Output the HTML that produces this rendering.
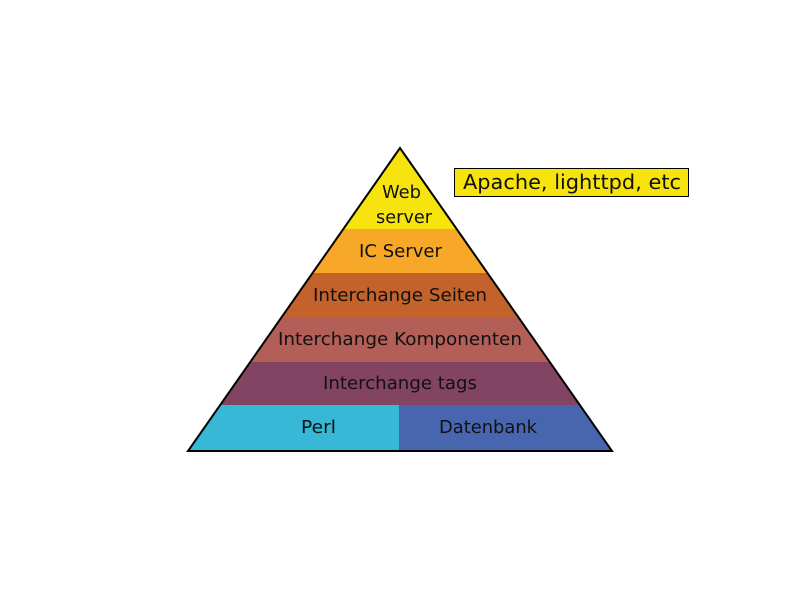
<!DOCTYPE html>
<html><head><style>body{margin:0;background:#fff}</style></head><body>
<svg width="800" height="600" xmlns="http://www.w3.org/2000/svg" font-family="DejaVu Sans, Liberation Sans, sans-serif" font-size="18" fill="#111">
<defs><clipPath id="t"><polygon points="400,148 188,451 612,451"/></clipPath></defs>
<g clip-path="url(#t)">
<rect x="180" y="140" width="440" height="89" fill="#F7E30E"/>
<rect x="180" y="229" width="440" height="44" fill="#F8A829"/>
<rect x="180" y="273" width="440" height="44" fill="#C3622A"/>
<rect x="180" y="317" width="440" height="45" fill="#B45E58"/>
<rect x="180" y="362" width="440" height="43" fill="#834463"/>
<rect x="180" y="405" width="219" height="50" fill="#36B8D6"/>
<rect x="399" y="405" width="221" height="50" fill="#4865AF"/>
</g>
<polygon points="400,148 188,451 612,451" fill="none" stroke="#000" stroke-width="2"/>
<text x="382" y="198" textLength="39" lengthAdjust="spacingAndGlyphs">Web</text>
<text x="376" y="223" textLength="56" lengthAdjust="spacingAndGlyphs">server</text>
<text x="359" y="257" textLength="83" lengthAdjust="spacingAndGlyphs">IC Server</text>
<text x="313" y="301" textLength="174" lengthAdjust="spacingAndGlyphs">Interchange Seiten</text>
<text x="278" y="345" textLength="244" lengthAdjust="spacingAndGlyphs">Interchange Komponenten</text>
<text x="323" y="389" textLength="154" lengthAdjust="spacingAndGlyphs">Interchange tags</text>
<text x="301" y="433" textLength="35" lengthAdjust="spacingAndGlyphs">Perl</text>
<text x="439" y="433" textLength="98" lengthAdjust="spacingAndGlyphs">Datenbank</text>
<rect x="454.5" y="168.5" width="234" height="28" fill="#F7E30E" stroke="#000" stroke-width="1"/>
<text x="463" y="189" font-size="20" textLength="218" lengthAdjust="spacingAndGlyphs">Apache, lighttpd, etc</text>
</svg>
</body></html>
